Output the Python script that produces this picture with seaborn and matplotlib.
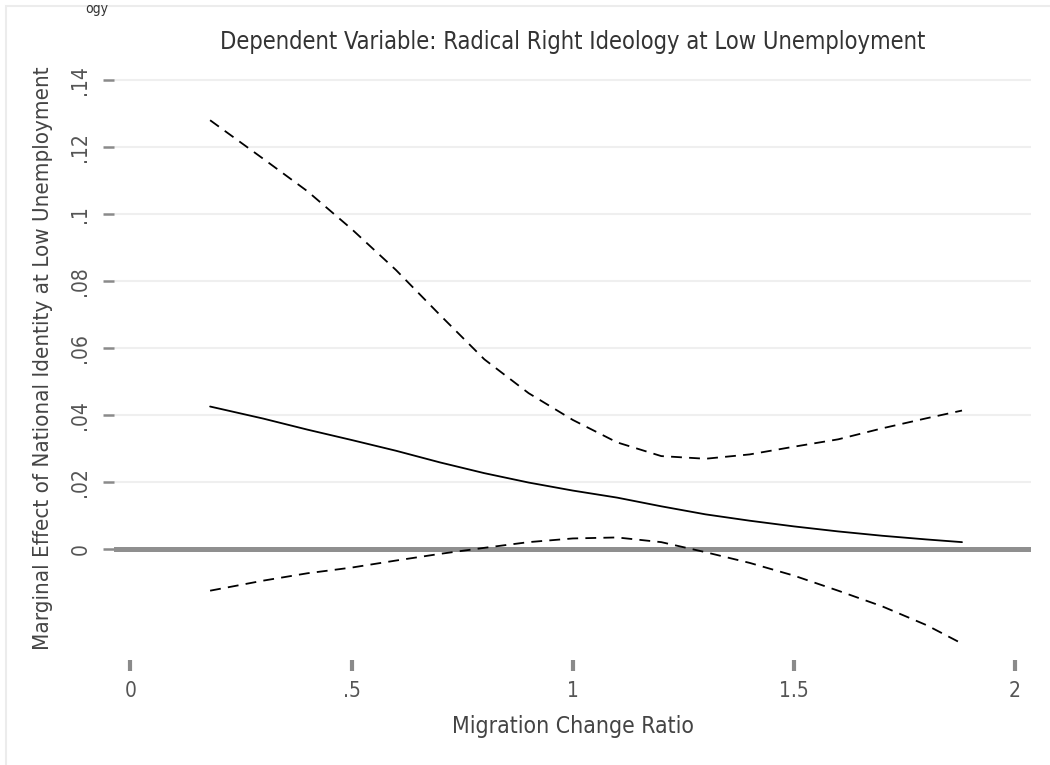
import matplotlib
matplotlib.use("Agg")
import matplotlib.pyplot as plt
import matplotlib.patches as mpatches
import seaborn as sns
import pandas as pd
import numpy as np

# values
ratio = [0.18, 0.3, 0.4, 0.5, 0.6, 0.7, 0.8, 0.9, 1.0, 1.1, 1.2, 1.3, 1.4, 1.5, 1.6, 1.7, 1.8, 1.88]
marginal_effect = [0.0425, 0.0389, 0.0356, 0.0325, 0.0293, 0.0258, 0.0226, 0.0198, 0.0174,
                   0.0153, 0.0127, 0.0103, 0.0084, 0.0067, 0.0052, 0.0039, 0.0028, 0.0020]
upper_ci = [0.1280, 0.1165, 0.1068, 0.0955, 0.0833, 0.0698, 0.0566, 0.0465, 0.0385,
            0.0318, 0.0277, 0.0269, 0.0282, 0.0305, 0.0327, 0.0360, 0.0390, 0.0413]
lower_ci = [-0.0125, -0.0095, -0.0073, -0.0056, -0.0035, -0.0015, 0.0003, 0.0020, 0.0031,
            0.0034, 0.0020, -0.0010, -0.0042, -0.0080, -0.0125, -0.0172, -0.0228, -0.0283]

x_ticks = [0, 0.5, 1, 1.5, 2]
x_ticklabels = ["0", ".5", "1", "1.5", "2"]
y_ticks = [0, 0.02, 0.04, 0.06, 0.08, 0.10, 0.12, 0.14]
y_ticklabels = ["0", ".02", ".04", ".06", ".08", ".1", ".12", ".14"]

title = "Dependent Variable: Radical Right Ideology at Low Unemployment"
x_label = "Migration Change Ratio"
y_label = "Marginal Effect of National Identity at Low Unemployment"

sns.set_style("white")
plt.rcParams["font.family"] = ["Liberation Sans Narrow", "DejaVu Sans"]
plt.rcParams["font.stretch"] = "condensed"

df = pd.DataFrame({"ratio": ratio, "effect": marginal_effect,
                   "upper": upper_ci, "lower": lower_ci})

fig = plt.figure(figsize=(10.5, 7.65), dpi=100)
ax = fig.add_axes([114/1050, 1-660/765, 917/1050, 592/765])

for y in y_ticks[1:]:
    ax.axhline(y, color="#efefef", lw=1.5, zorder=0)
ax.axhline(0, color="#8f8f8f", lw=3.6, zorder=1)

sns.lineplot(data=df, x="ratio", y="effect", color="black", lw=1.3, ax=ax, zorder=3)
sns.lineplot(data=df, x="ratio", y="upper", color="black", lw=1.3, ax=ax, zorder=3,
             dashes=False, linestyle=(0, (6, 4)))
sns.lineplot(data=df, x="ratio", y="lower", color="black", lw=1.3, ax=ax, zorder=3,
             dashes=False, linestyle=(0, (6, 4)))

ax.set_xlim(-0.0373, 2.036)
ax.set_ylim(-0.0332, 0.1436)
for s in ax.spines.values():
    s.set_visible(False)

ax.set_xticks(x_ticks)
ax.set_xticklabels(x_ticklabels, fontsize=15, color="#555555")
ax.set_yticks(y_ticks)
ax.set_yticklabels(y_ticklabels, fontsize=15, color="#555555", rotation=90, va="center")
ax.tick_params(axis="x", bottom=True, length=8, width=3, color="#8a8a8a", pad=7)
ax.tick_params(axis="y", left=True, length=8, width=1.8, color="#8a8a8a", pad=9)

ax.set_xlabel(x_label, fontsize=16.5, color="#444444", va="center")
ax.xaxis.set_label_coords(0.5, (660-726)/592)
ax.set_ylabel(y_label, fontsize=16, color="#444444", va="center")
ax.yaxis.set_label_coords((43-114)/917, 0.51)

ax.text(0.5, (660-42)/592, title, transform=ax.transAxes, ha="center", va="center",
        fontsize=17, color="#333333")

# faint frame and the fragment of the neighbouring figure's text
fig.patches.append(mpatches.Rectangle((6/1050, -0.1), 2, 1.1 - 6/765, fill=False,
                                      edgecolor="#ececec", lw=1.5, transform=fig.transFigure))
fig.text(85/1050, 1-2/765, "ogy", fontsize=10, color="#333333", va="top")

fig.savefig("out.png", dpi=100)
